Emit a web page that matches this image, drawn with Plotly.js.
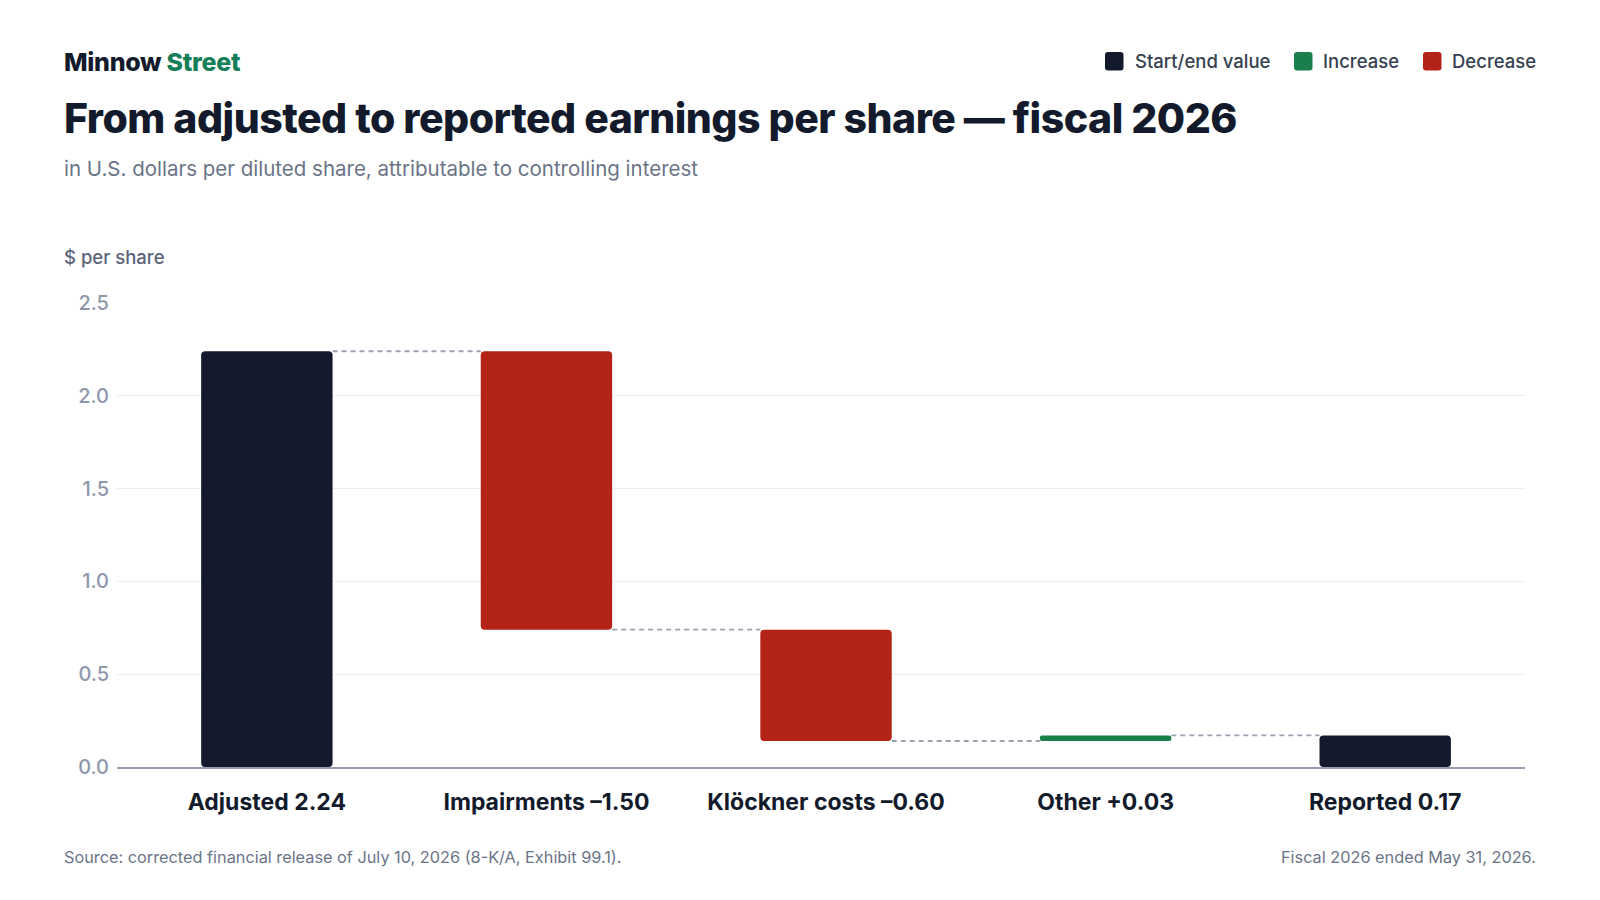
<!DOCTYPE html>
<html>
<head>
<meta charset="utf-8">
<script src="https://cdn.plot.ly/plotly-3.0.1.min.js"></script>
<style>
  html, body { margin: 0; padding: 0; background: #fff; }
  #chart { width: 1600px; height: 900px; }
</style>
</head>
<body>
<div id="chart"></div>
<script>
// values
const categories = ['Adjusted', 'Impairments', 'Klöckner costs', 'Other', 'Reported'];
const changes = [2.24, -1.50, -0.60, 0.03, 0.17];
const kinds = ['total', 'decrease', 'decrease', 'increase', 'total'];
const tickLabels = ['Adjusted 2.24', 'Impairments –1.50', 'Klöckner costs –0.60', 'Other +0.03', 'Reported 0.17'];
const yTicks = [0, 0.5, 1.0, 1.5, 2.0, 2.5];

const colors = { total: '#121a2b', increase: '#1b7f4c', decrease: '#b42318' };

// plot box in page pixels
const L = 117, R = 1525, T = 303, B = 767;
const W = R - L, H = B - T;
const px = v => (v - L) / W;
const py = v => (B - v) / H;

// running totals -> bar bases
var bases = [], ends = [], running = 0;
changes.forEach((c, i) => {
  if (kinds[i] === 'total') {
    bases.push(0);
    running = c;
  } else {
    bases.push(running);
    running += c;
  }
  ends.push(running);
});

const barWidth = 0.47;
const xs = categories.map((c, i) => i);

var data = [{
  type: 'bar',
  x: xs,
  y: changes,
  base: bases,
  width: barWidth,
  marker: {
    color: kinds.map(k => colors[k]),
    cornerradius: 4,
    line: { width: 0 }
  },
  hoverinfo: 'skip',
  showlegend: false
}];

// dashed connectors between bars
for (var i = 0; i < categories.length - 1; i++) {
  data.push({
    type: 'scatter',
    mode: 'lines',
    x: [xs[i] + barWidth / 2, xs[i + 1] - barWidth / 2],
    y: [ends[i], ends[i]],
    line: { color: '#9aa3b4', width: 1.8, dash: '5px,4px' },
    hoverinfo: 'skip',
    showlegend: false
  });
}

var font = 'Inter, "Noto Sans", sans-serif';

var annotations = [
  { text: 'Minnow <span style="color:#157f5a">Street</span>', x: px(64), y: py(62),
    font: { size: 25, color: '#121a2b', weight: 800 } },
  { text: 'From adjusted to reported earnings per share — fiscal 2026', x: px(64), y: py(118),
    font: { size: 41, color: '#121a2b', weight: 800 } },
  { text: 'in U.S. dollars per diluted share, attributable to controlling interest', x: px(62), y: py(168),
    font: { size: 20.5, color: '#6b7487' } },
  { text: '$ per share', x: px(62), y: py(257),
    font: { size: 18.5, color: '#5b6478', weight: 500 } },
  { text: 'Source: corrected financial release of July 10, 2026 (8-K/A, Exhibit 99.1).', x: px(62), y: py(857),
    font: { size: 16.3, color: '#6b7487' } },
  { text: 'Fiscal 2026 ended May 31, 2026.', x: px(1538), y: py(857), xanchor: 'right',
    font: { size: 16.3, color: '#6b7487' } }
];

// custom legend
var legendItems = [
  { label: 'Start/end value', color: colors.total, sx: 1105, tx: 1133 },
  { label: 'Increase', color: colors.increase, sx: 1294, tx: 1321 },
  { label: 'Decrease', color: colors.decrease, sx: 1423, tx: 1450 }
];
var shapes = [];
legendItems.forEach(it => {
  annotations.push({ text: it.label, x: px(it.tx), y: py(61),
    font: { size: 18.5, color: '#374151', weight: 500 } });
  var x0 = it.sx, x1 = it.sx + 18.5, y0 = 52, y1 = 70.5, r = 3;
  // rounded square path in page pixels converted to paper
  var p = 'M ' + px(x0 + r) + ',' + py(y0) +
    ' L ' + px(x1 - r) + ',' + py(y0) +
    ' Q ' + px(x1) + ',' + py(y0) + ' ' + px(x1) + ',' + py(y0 + r) +
    ' L ' + px(x1) + ',' + py(y1 - r) +
    ' Q ' + px(x1) + ',' + py(y1) + ' ' + px(x1 - r) + ',' + py(y1) +
    ' L ' + px(x0 + r) + ',' + py(y1) +
    ' Q ' + px(x0) + ',' + py(y1) + ' ' + px(x0) + ',' + py(y1 - r) +
    ' L ' + px(x0) + ',' + py(y0 + r) +
    ' Q ' + px(x0) + ',' + py(y0) + ' ' + px(x0 + r) + ',' + py(y0) + ' Z';
  shapes.push({ type: 'path', xref: 'paper', yref: 'paper', path: p,
    fillcolor: it.color, line: { width: 0 } });
});

annotations.forEach(a => {
  a.xref = 'paper'; a.yref = 'paper';
  a.xanchor = a.xanchor || 'left';
  a.yanchor = 'middle';
  a.showarrow = false;
});

var layout = {
  width: 1600,
  height: 900,
  margin: { l: L, r: 1600 - R, t: T, b: 900 - B, pad: 0 },
  paper_bgcolor: '#ffffff',
  plot_bgcolor: '#ffffff',
  font: { family: font, color: '#121a2b' },
  showlegend: false,
  xaxis: {
    range: [-0.536, 4.5],
    tickvals: xs,
    ticktext: tickLabels,
    tickfont: { size: 23, color: '#121a2b', weight: 700 },
    ticks: '',
    ticklabelstandoff: 13,
    showgrid: false,
    zeroline: false,
    showline: true,
    linecolor: '#949db0',
    linewidth: 2,
    fixedrange: true
  },
  yaxis: {
    range: [0, 2.5],
    tickvals: yTicks,
    ticktext: yTicks.map(v => v.toFixed(1)),
    tickfont: { size: 20, color: '#8e97aa', weight: 500 },
    ticks: '',
    ticklabelstandoff: 7,
    showgrid: true,
    gridcolor: '#eceef1',
    gridwidth: 1,
    zeroline: false,
    showline: false,
    fixedrange: true
  },
  annotations: annotations,
  shapes: shapes
};

Plotly.newPlot('chart', data, layout, { displayModeBar: false, staticPlot: true }).then(gd => {
  // tighter tracking on the heavy headings, then pull them back to the left edge
  var tracking = { 0: '-0.3px', 1: '-0.5px' };
  var box = gd.getBoundingClientRect();
  Object.keys(tracking).forEach(k => {
    var t = gd.querySelector('.annotation[data-index="' + k + '"] text');
    if (!t) return;
    t.style.letterSpacing = tracking[k];
    var shift = (box.left + 64) - t.getBoundingClientRect().left;
    t.setAttribute('x', parseFloat(t.getAttribute('x') || 0) + shift);
  });
});
</script>
</body>
</html>
